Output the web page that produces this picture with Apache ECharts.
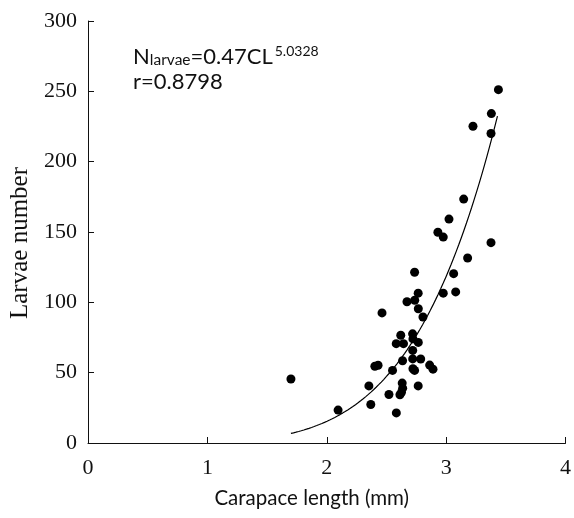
<!DOCTYPE html>
<html>
<head>
<meta charset="utf-8">
<script src="https://cdn.jsdelivr.net/npm/echarts@6/dist/echarts.min.js"></script>
<style>
html,body{margin:0;padding:0;background:#fff;}
#chart{width:574px;height:518px;}
</style>
</head>
<body>
<div id="chart"></div>
<script>
// Carapace length (mm) of each female
const carapaceLength = [3.438,3.379,3.225,3.376,3.147,3.024,2.931,2.976,3.376,3.180,
  3.063,2.736,2.766,2.976,3.080,2.672,2.737,2.767,2.463,2.806,
  2.620,2.719,2.722,2.582,2.643,2.767,2.720,2.720,2.635,2.787,
  2.862,2.890,2.403,2.430,2.551,2.722,2.736,1.700,2.632,2.353,
  2.766,2.636,2.626,2.521,2.613,2.369,2.095,2.583];
// Number of larvae
const larvaeNumber = [251.2,234.2,225.2,220.0,173.4,159.2,149.8,146.4,142.4,131.5,
  120.4,121.4,106.5,106.5,107.4,100.4,101.5,95.4,92.5,89.6,
  76.6,77.6,74.0,70.6,70.6,71.5,65.8,59.8,58.5,59.7,
  55.4,52.5,54.6,55.3,51.6,52.8,51.6,45.5,42.6,40.6,
  40.6,39.0,36.0,34.5,34.3,27.4,23.4,21.4];
// Fitted power model printed on the chart: N = a * CL^b
const fitA = 0.47;
const fitB = 5.0328;
const fitRange = [1.70, 3.43];
const xTicks = [0, 1, 2, 3, 4];
const yTicks = [0, 50, 100, 150, 200, 250, 300];

const fitCurve = [];
for (let i = 0; i <= 80; i++) {
  const x = fitRange[0] + (fitRange[1] - fitRange[0]) * i / 80;
  fitCurve.push([x, fitA * Math.pow(x, fitB)]);
}
const points = carapaceLength.map((x, i) => [x, larvaeNumber[i]]);

const chart = echarts.init(document.getElementById('chart'));
chart.setOption({
  animation: false,
  backgroundColor: '#ffffff',
  grid: {left: 88, right: 6, top: 21, bottom: 75, containLabel: false},
  xAxis: {
    type: 'value', min: xTicks[0], max: xTicks[xTicks.length - 1], interval: 1,
    name: 'Carapace length (mm)', nameLocation: 'middle', nameGap: 45,
    nameTextStyle: {fontFamily: 'Lato', fontSize: 20.5, color: '#111', padding: [0, 30, 0, 0]},
    axisLine: {lineStyle: {color: '#111', width: 1}},
    axisTick: {inside: true, length: 6, lineStyle: {color: '#111'}},
    axisLabel: {fontFamily: 'Liberation Serif', fontSize: 22, color: '#111', margin: 14},
    splitLine: {show: false}
  },
  yAxis: {
    type: 'value', min: yTicks[0], max: yTicks[yTicks.length - 1], interval: 50,
    name: 'Larvae number', nameLocation: 'middle', nameGap: 55,
    nameTextStyle: {fontFamily: 'Liberation Serif', fontSize: 25, color: '#111', padding: [0, 22, 0, 0]},
    axisLine: {show: true, lineStyle: {color: '#111', width: 1}},
    axisTick: {show: true, inside: true, length: 6, lineStyle: {color: '#111'}},
    axisLabel: {fontFamily: 'Liberation Serif', fontSize: 22, color: '#111', margin: 11},
    splitLine: {show: false}
  },
  graphic: [{
    type: 'text', left: 133, top: 44,
    style: {
      text: '{n|N}{s|larvae}{n|=0.47CL}{p|5.0328}\n{n|r=0.8798}',
      rich: {
        n: {fontFamily: 'Lato', fontSize: 22, fill: '#111', lineHeight: 25},
        s: {fontFamily: 'Lato', fontSize: 15.5, fill: '#111', verticalAlign: 'bottom', lineHeight: 16, padding: [0,0,1,0]},
        p: {fontFamily: 'Lato', fontSize: 14, fill: '#111', verticalAlign: 'top', lineHeight: 14, padding: [0,0,0,2]}
      }
    }
  }],
  series: [{
    type: 'scatter', data: points, symbol: 'circle', symbolSize: 9,
    itemStyle: {color: '#000', opacity: 1}
  }, {
    type: 'line', data: fitCurve, showSymbol: false, smooth: false,
    lineStyle: {color: '#000', width: 1.2}
  }]
});
</script>
</body>
</html>
